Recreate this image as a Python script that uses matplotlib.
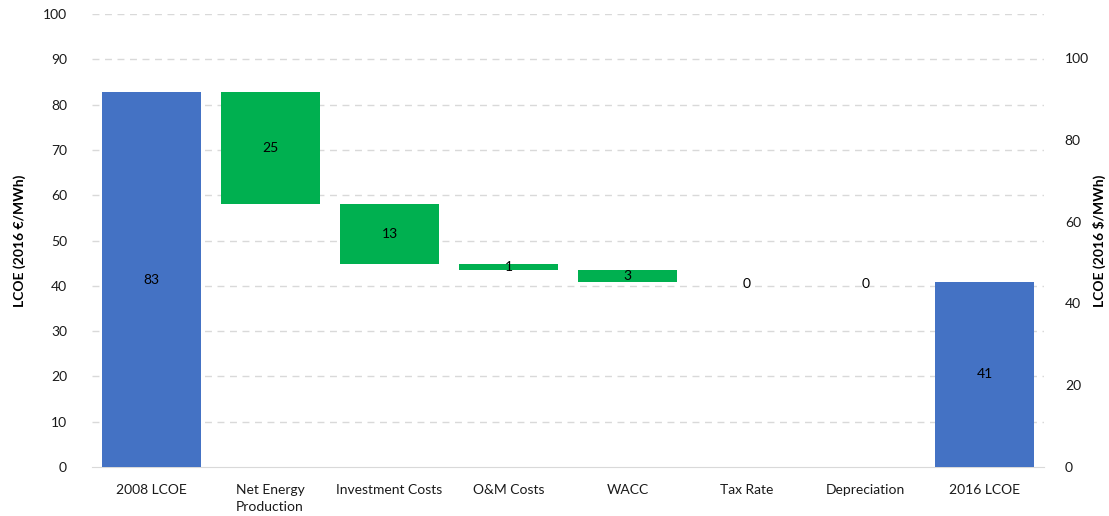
import numpy as np
import matplotlib.pyplot as plt

plt.rcParams['font.family'] = ['Lato', 'DejaVu Sans']

# data
categories = ['2008 LCOE', 'Net Energy\nProduction', 'Investment Costs', 'O&M Costs',
              'WACC', 'Tax Rate', 'Depreciation', '2016 LCOE']
start_value = 82.7
deltas = [-24.7, -13.2, -1.3, -2.6, 0.0, 0.0]
end_value = 40.9
eur_to_usd = 1.107

# waterfall geometry
bottoms = [0]
heights = [start_value]
level = start_value
for d in deltas:
    new_level = level + d
    bottoms.append(min(level, new_level))
    heights.append(abs(d))
    level = new_level
bottoms.append(0)
heights.append(end_value)

colors = ['#4472C4'] + ['#00B050'] * len(deltas) + ['#4472C4']
labels = [start_value] + [abs(d) for d in deltas] + [end_value]

fig = plt.figure(figsize=(11.09, 5.16), dpi=100)
ax = fig.add_axes([0.083, 0.095, 0.8584, 0.8777])

x = np.arange(len(categories))
ax.bar(x, heights, bottom=bottoms, width=0.83, color=colors, zorder=3)

for xi, b, h, lab in zip(x, bottoms, heights, labels):
    yy = b + h / 2 if h > 0 else b - 0.4
    ax.text(xi, yy, f'{round(lab):d}', ha='center', va='center', fontsize=10, zorder=4)

ax.set_xlim(-0.5, len(categories) - 0.5)
ax.set_ylim(0, 100)
ax.set_yticks(np.arange(0, 101, 10))
ax.set_xticks(x)
ax.set_xticklabels(categories, fontsize=10, va='top', linespacing=1.5)
ax.tick_params(axis='both', length=0, labelsize=10, colors='#1a1a1a')
ax.tick_params(axis='y', pad=18)
ax.tick_params(axis='x', pad=12)
for t in ax.get_xticklabels():
    t.set_multialignment('left')

for yv in np.arange(10, 101, 10):
    ax.axhline(yv, color='#D9D9D9', lw=1, ls=(0, (5, 4)), zorder=1)
for s in ['top', 'right', 'left']:
    ax.spines[s].set_visible(False)
ax.spines['bottom'].set_color('#D9D9D9')

ax.set_ylabel('LCOE (2016 €/MWh)', fontsize=10, fontweight='bold', labelpad=12)

ax2 = ax.twinx()
ax2.set_ylim(0, 100 * eur_to_usd)
ax2.set_yticks(np.arange(0, 101, 20))
ax2.tick_params(axis='y', length=0, labelsize=10, colors='#1a1a1a', pad=15)
for s in ax2.spines.values():
    s.set_visible(False)
ax2.set_ylabel('LCOE (2016 $/MWh)', fontsize=10, fontweight='bold', labelpad=3)

fig.savefig('out.png', dpi=100)
